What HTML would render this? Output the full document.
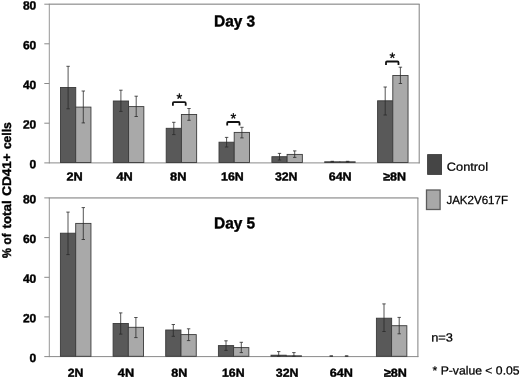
<!DOCTYPE html>
<html><head><meta charset="utf-8"><title>Figure</title>
<style>
html,body{margin:0;padding:0;background:#fff}
body{width:520px;height:378px;overflow:hidden;font-family:"Liberation Sans",sans-serif}
text{font-family:"Liberation Sans",sans-serif;fill:#000;text-rendering:geometricPrecision}
.tk{font-size:12px;font-weight:bold;stroke:#000;stroke-width:.4px}
.ti{font-size:15.9px;font-weight:bold;stroke:#000;stroke-width:.4px}
.st{font-size:14.8px;stroke:#000;stroke-width:.3px}
.xl{font-size:11.7px;font-weight:bold;stroke:#000;stroke-width:.4px}
.lg{font-size:11.8px;stroke:#000;stroke-width:.25px}
.yl{font-size:12.5px;font-weight:bold;stroke:#000;stroke-width:.4px}
</style></head><body>
<svg width="520" height="378" viewBox="0 0 520 378" style="display:block">
<rect width="520" height="378" fill="#fff"/>
<path d="M48.8 4.15H419.7" stroke="#767676" stroke-width="1" fill="none"/>
<path d="M419.2 4.15V163.4" stroke="#808080" stroke-width="1" fill="none"/>
<path d="M49.3 4.15V163.4" stroke="#8a8a8a" stroke-width="0.9" fill="none"/>
<path d="M44.3 162.9H419.7" stroke="#8a8a8a" stroke-width="1" fill="none"/>
<line x1="44.3" y1="4.2" x2="49.3" y2="4.2" stroke="#8a8a8a" stroke-width="1"/>
<text x="36.3" y="9.6" transform="rotate(0.03 36.3 9.6)" class="tk" text-anchor="end">80</text>
<line x1="44.3" y1="43.8" x2="49.3" y2="43.8" stroke="#8a8a8a" stroke-width="1"/>
<text x="36.3" y="49.2" transform="rotate(0.03 36.3 49.2)" class="tk" text-anchor="end">60</text>
<line x1="44.3" y1="83.5" x2="49.3" y2="83.5" stroke="#8a8a8a" stroke-width="1"/>
<text x="36.3" y="88.9" transform="rotate(0.03 36.3 88.9)" class="tk" text-anchor="end">40</text>
<line x1="44.3" y1="123.2" x2="49.3" y2="123.2" stroke="#8a8a8a" stroke-width="1"/>
<text x="36.3" y="128.6" transform="rotate(0.03 36.3 128.6)" class="tk" text-anchor="end">20</text>
<text x="36.3" y="168.3" transform="rotate(0.03 36.3 168.3)" class="tk" text-anchor="end">0</text>
<rect x="60.5" y="87.5" width="15.25" height="75.0" fill="#595959" stroke="#3a3a3a" stroke-width="0.9"/>
<path d="M68.1 66.3V108.8M66.4 66.3H69.8M66.4 108.8H69.8" stroke="#2a2a2a" stroke-width="0.8" fill="none"/>
<rect x="75.7" y="107.1" width="15.25" height="55.4" fill="#a9a9a9" stroke="#3a3a3a" stroke-width="0.9"/>
<path d="M83.3 91.0V122.9M81.6 91.0H85.0M81.6 122.9H85.0" stroke="#2a2a2a" stroke-width="0.8" fill="none"/>
<rect x="113.3" y="101.0" width="15.25" height="61.5" fill="#595959" stroke="#3a3a3a" stroke-width="0.9"/>
<path d="M120.9 90.2V111.4M119.2 90.2H122.6M119.2 111.4H122.6" stroke="#2a2a2a" stroke-width="0.8" fill="none"/>
<rect x="128.6" y="106.6" width="15.25" height="55.9" fill="#a9a9a9" stroke="#3a3a3a" stroke-width="0.9"/>
<path d="M136.2 96.2V116.5M134.5 96.2H137.9M134.5 116.5H137.9" stroke="#2a2a2a" stroke-width="0.8" fill="none"/>
<rect x="166.2" y="128.3" width="15.25" height="34.2" fill="#595959" stroke="#3a3a3a" stroke-width="0.9"/>
<path d="M173.8 122.3V134.6M172.1 122.3H175.5M172.1 134.6H175.5" stroke="#2a2a2a" stroke-width="0.8" fill="none"/>
<rect x="181.4" y="114.5" width="15.25" height="48.0" fill="#a9a9a9" stroke="#3a3a3a" stroke-width="0.9"/>
<path d="M189.0 108.5V120.3M187.3 108.5H190.7M187.3 120.3H190.7" stroke="#2a2a2a" stroke-width="0.8" fill="none"/>
<rect x="219.0" y="142.2" width="15.25" height="20.3" fill="#595959" stroke="#3a3a3a" stroke-width="0.9"/>
<path d="M226.6 137.4V147.0M224.9 137.4H228.3M224.9 147.0H228.3" stroke="#2a2a2a" stroke-width="0.8" fill="none"/>
<rect x="234.2" y="132.4" width="15.25" height="30.1" fill="#a9a9a9" stroke="#3a3a3a" stroke-width="0.9"/>
<path d="M241.9 127.3V137.9M240.2 127.3H243.6M240.2 137.9H243.6" stroke="#2a2a2a" stroke-width="0.8" fill="none"/>
<rect x="271.9" y="156.7" width="15.25" height="5.8" fill="#595959" stroke="#3a3a3a" stroke-width="0.9"/>
<path d="M279.5 153.4V160.0M277.8 153.4H281.2M277.8 160.0H281.2" stroke="#2a2a2a" stroke-width="0.8" fill="none"/>
<rect x="287.1" y="154.4" width="15.25" height="8.1" fill="#a9a9a9" stroke="#3a3a3a" stroke-width="0.9"/>
<path d="M294.7 150.9V157.4M293.0 150.9H296.4M293.0 157.4H296.4" stroke="#2a2a2a" stroke-width="0.8" fill="none"/>
<rect x="324.7" y="161.8" width="15.25" height="0.7" fill="#595959" stroke="#3a3a3a" stroke-width="0.9"/>
<path d="M332.3 161.3V162.0M330.6 161.3H334.0M330.6 162.0H334.0" stroke="#2a2a2a" stroke-width="0.8" fill="none"/>
<rect x="339.9" y="161.8" width="15.25" height="0.7" fill="#a9a9a9" stroke="#3a3a3a" stroke-width="0.9"/>
<path d="M347.6 161.3V162.0M345.9 161.3H349.3M345.9 162.0H349.3" stroke="#2a2a2a" stroke-width="0.8" fill="none"/>
<rect x="377.6" y="100.8" width="15.25" height="61.7" fill="#595959" stroke="#3a3a3a" stroke-width="0.9"/>
<path d="M385.2 87.0V115.0M383.5 87.0H386.9M383.5 115.0H386.9" stroke="#2a2a2a" stroke-width="0.8" fill="none"/>
<rect x="392.8" y="75.5" width="15.25" height="87.0" fill="#a9a9a9" stroke="#3a3a3a" stroke-width="0.9"/>
<path d="M400.4 67.2V83.5M398.7 67.2H402.1M398.7 83.5H402.1" stroke="#2a2a2a" stroke-width="0.8" fill="none"/>
<path d="M172.9 105.7V103.2Q172.9 102.2 173.9 102.2H184.7Q185.7 102.2 185.7 103.2V105.7" stroke="#111" stroke-width="1.8" fill="none"/>
<text x="179.5" y="103.65" transform="rotate(0.03 179.5 103.65)" class="st" text-anchor="middle">*</text>
<path d="M227.2 125.5V123.0Q227.2 122.0 228.2 122.0H238.5Q239.5 122.0 239.5 123.0V125.5" stroke="#111" stroke-width="1.8" fill="none"/>
<text x="233.5" y="123.45" transform="rotate(0.03 233.5 123.45)" class="st" text-anchor="middle">*</text>
<path d="M386.0 65.0V62.5Q386.0 61.5 387.0 61.5H397.5Q398.5 61.5 398.5 62.5V65.0" stroke="#111" stroke-width="1.8" fill="none"/>
<text x="392.3" y="62.95" transform="rotate(0.03 392.3 62.95)" class="st" text-anchor="middle">*</text>
<text x="214.0" y="26.4" transform="rotate(0.03 214.0 26.4)" class="ti" textLength="41.2" lengthAdjust="spacingAndGlyphs">Day 3</text>
<path d="M48.8 197.95H418.4" stroke="#767676" stroke-width="1" fill="none"/>
<path d="M417.9 197.95V357.1" stroke="#808080" stroke-width="1" fill="none"/>
<path d="M49.3 197.95V357.1" stroke="#8a8a8a" stroke-width="0.9" fill="none"/>
<path d="M44.3 356.6H418.4" stroke="#8a8a8a" stroke-width="1" fill="none"/>
<line x1="44.3" y1="197.9" x2="49.3" y2="197.9" stroke="#8a8a8a" stroke-width="1"/>
<text x="36.3" y="203.3" transform="rotate(0.03 36.3 203.3)" class="tk" text-anchor="end">80</text>
<line x1="44.3" y1="237.6" x2="49.3" y2="237.6" stroke="#8a8a8a" stroke-width="1"/>
<text x="36.3" y="243.0" transform="rotate(0.03 36.3 243.0)" class="tk" text-anchor="end">60</text>
<line x1="44.3" y1="277.3" x2="49.3" y2="277.3" stroke="#8a8a8a" stroke-width="1"/>
<text x="36.3" y="282.7" transform="rotate(0.03 36.3 282.7)" class="tk" text-anchor="end">40</text>
<line x1="44.3" y1="316.9" x2="49.3" y2="316.9" stroke="#8a8a8a" stroke-width="1"/>
<text x="36.3" y="322.3" transform="rotate(0.03 36.3 322.3)" class="tk" text-anchor="end">20</text>
<text x="36.3" y="362.0" transform="rotate(0.03 36.3 362.0)" class="tk" text-anchor="end">0</text>
<rect x="60.4" y="233.2" width="15.25" height="123.1" fill="#595959" stroke="#3a3a3a" stroke-width="0.9"/>
<path d="M68.0 212.1V254.6M66.3 212.1H69.7M66.3 254.6H69.7" stroke="#2a2a2a" stroke-width="0.8" fill="none"/>
<rect x="75.7" y="223.4" width="15.25" height="132.9" fill="#a9a9a9" stroke="#3a3a3a" stroke-width="0.9"/>
<path d="M83.3 207.6V239.5M81.6 207.6H85.0M81.6 239.5H85.0" stroke="#2a2a2a" stroke-width="0.8" fill="none"/>
<rect x="113.1" y="323.5" width="15.25" height="32.8" fill="#595959" stroke="#3a3a3a" stroke-width="0.9"/>
<path d="M120.7 312.9V334.1M119.0 312.9H122.4M119.0 334.1H122.4" stroke="#2a2a2a" stroke-width="0.8" fill="none"/>
<rect x="128.3" y="327.3" width="15.25" height="29.0" fill="#a9a9a9" stroke="#3a3a3a" stroke-width="0.9"/>
<path d="M135.9 317.5V337.6M134.2 317.5H137.6M134.2 337.6H137.6" stroke="#2a2a2a" stroke-width="0.8" fill="none"/>
<rect x="165.7" y="330.0" width="15.25" height="26.3" fill="#595959" stroke="#3a3a3a" stroke-width="0.9"/>
<path d="M173.3 324.5V336.3M171.6 324.5H175.0M171.6 336.3H175.0" stroke="#2a2a2a" stroke-width="0.8" fill="none"/>
<rect x="181.0" y="334.6" width="15.25" height="21.7" fill="#a9a9a9" stroke="#3a3a3a" stroke-width="0.9"/>
<path d="M188.6 328.8V340.6M186.9 328.8H190.3M186.9 340.6H190.3" stroke="#2a2a2a" stroke-width="0.8" fill="none"/>
<rect x="218.4" y="345.6" width="15.25" height="10.7" fill="#595959" stroke="#3a3a3a" stroke-width="0.9"/>
<path d="M226.0 340.8V350.4M224.3 340.8H227.7M224.3 350.4H227.7" stroke="#2a2a2a" stroke-width="0.8" fill="none"/>
<rect x="233.6" y="347.6" width="15.25" height="8.7" fill="#a9a9a9" stroke="#3a3a3a" stroke-width="0.9"/>
<path d="M241.3 342.3V352.6M239.6 342.3H243.0M239.6 352.6H243.0" stroke="#2a2a2a" stroke-width="0.8" fill="none"/>
<rect x="271.0" y="355.2" width="15.25" height="1.1" fill="#595959" stroke="#3a3a3a" stroke-width="0.9"/>
<path d="M278.7 351.6V356.2M277.0 351.6H280.4M277.0 356.2H280.4" stroke="#2a2a2a" stroke-width="0.8" fill="none"/>
<rect x="286.3" y="355.8" width="15.25" height="0.6" fill="#a9a9a9" stroke="#3a3a3a" stroke-width="0.9"/>
<path d="M293.9 352.6V356.2M292.2 352.6H295.6M292.2 356.2H295.6" stroke="#2a2a2a" stroke-width="0.8" fill="none"/>
<path d="M331.3 355.8V356.3M329.6 355.8H333.0M329.6 356.3H333.0" stroke="#2a2a2a" stroke-width="0.8" fill="none"/>
<path d="M346.6 355.8V356.3M344.9 355.8H348.3M344.9 356.3H348.3" stroke="#2a2a2a" stroke-width="0.8" fill="none"/>
<rect x="376.4" y="318.2" width="15.25" height="38.1" fill="#595959" stroke="#3a3a3a" stroke-width="0.9"/>
<path d="M384.0 303.9V331.5M382.3 303.9H385.7M382.3 331.5H385.7" stroke="#2a2a2a" stroke-width="0.8" fill="none"/>
<rect x="391.6" y="325.7" width="15.25" height="30.6" fill="#a9a9a9" stroke="#3a3a3a" stroke-width="0.9"/>
<path d="M399.2 317.4V333.8M397.5 317.4H400.9M397.5 333.8H400.9" stroke="#2a2a2a" stroke-width="0.8" fill="none"/>
<text x="214.0" y="228.4" transform="rotate(0.03 214.0 228.4)" class="ti" textLength="41.2" lengthAdjust="spacingAndGlyphs">Day 5</text>
<text x="66.5" y="180.6" transform="rotate(0.03 66.5 180.6)" class="xl" textLength="16.3" lengthAdjust="spacingAndGlyphs">2N</text>
<text x="116.4" y="180.6" transform="rotate(0.03 116.4 180.6)" class="xl" textLength="16.3" lengthAdjust="spacingAndGlyphs">4N</text>
<text x="170.0" y="180.6" transform="rotate(0.03 170.0 180.6)" class="xl" textLength="16.4" lengthAdjust="spacingAndGlyphs">8N</text>
<text x="221.0" y="180.6" transform="rotate(0.03 221.0 180.6)" class="xl" textLength="22.7" lengthAdjust="spacingAndGlyphs">16N</text>
<text x="274.9" y="180.6" transform="rotate(0.03 274.9 180.6)" class="xl" textLength="22.6" lengthAdjust="spacingAndGlyphs">32N</text>
<text x="328.7" y="180.6" transform="rotate(0.03 328.7 180.6)" class="xl" textLength="23.0" lengthAdjust="spacingAndGlyphs">64N</text>
<text x="383.2" y="180.6" transform="rotate(0.03 383.2 180.6)" class="xl" textLength="22.8" lengthAdjust="spacingAndGlyphs">≥8N</text>
<text x="67.8" y="376.7" transform="rotate(0.03 67.8 376.7)" class="xl" textLength="15.7" lengthAdjust="spacingAndGlyphs">2N</text>
<text x="117.8" y="376.7" transform="rotate(0.03 117.8 376.7)" class="xl" textLength="16.3" lengthAdjust="spacingAndGlyphs">4N</text>
<text x="171.2" y="376.7" transform="rotate(0.03 171.2 376.7)" class="xl" textLength="16.1" lengthAdjust="spacingAndGlyphs">8N</text>
<text x="222.0" y="376.7" transform="rotate(0.03 222.0 376.7)" class="xl" textLength="22.6" lengthAdjust="spacingAndGlyphs">16N</text>
<text x="275.8" y="376.7" transform="rotate(0.03 275.8 376.7)" class="xl" textLength="22.7" lengthAdjust="spacingAndGlyphs">32N</text>
<text x="329.7" y="376.7" transform="rotate(0.03 329.7 376.7)" class="xl" textLength="23.2" lengthAdjust="spacingAndGlyphs">64N</text>
<text x="383.9" y="376.7" transform="rotate(0.03 383.9 376.7)" class="xl" textLength="23.0" lengthAdjust="spacingAndGlyphs">≥8N</text>
<text transform="translate(11,258.0) rotate(-90)" class="yl" textLength="10.0" lengthAdjust="spacingAndGlyphs">%</text>
<text transform="translate(11,244.4) rotate(-90)" class="yl" textLength="10.9" lengthAdjust="spacingAndGlyphs">of</text>
<text transform="translate(11,228.4) rotate(-90)" class="yl" textLength="28.0" lengthAdjust="spacingAndGlyphs">total</text>
<text transform="translate(11,195.7) rotate(-90)" class="yl" textLength="42.4" lengthAdjust="spacingAndGlyphs">CD41+</text>
<text transform="translate(11,149.1) rotate(-90)" class="yl" textLength="26.8" lengthAdjust="spacingAndGlyphs">cells</text>
<rect x="427.6" y="154.6" width="14" height="19.8" fill="#454545" stroke="#333" stroke-width="0.8"/>
<rect x="426.5" y="190" width="13.6" height="19.5" fill="#a8a8a8" stroke="#5c5c5c" stroke-width="1.3"/>
<text x="446.8" y="170.8" transform="rotate(0.03 446.8 170.8)" class="lg" textLength="41.2" lengthAdjust="spacingAndGlyphs">Control</text>
<text x="446.4" y="203.9" transform="rotate(0.03 446.4 203.9)" class="lg" textLength="61.6" lengthAdjust="spacingAndGlyphs">JAK2V617F</text>
<text x="431.2" y="341.4" transform="rotate(0.03 431.2 341.4)" class="lg" textLength="21.8" lengthAdjust="spacingAndGlyphs">n=3</text>
<text x="432.5" y="374.5" transform="rotate(0.03 432.5 374.5)" class="lg" textLength="87.1" lengthAdjust="spacingAndGlyphs">* P-value &lt; 0.05</text>
</svg>
</body></html>
